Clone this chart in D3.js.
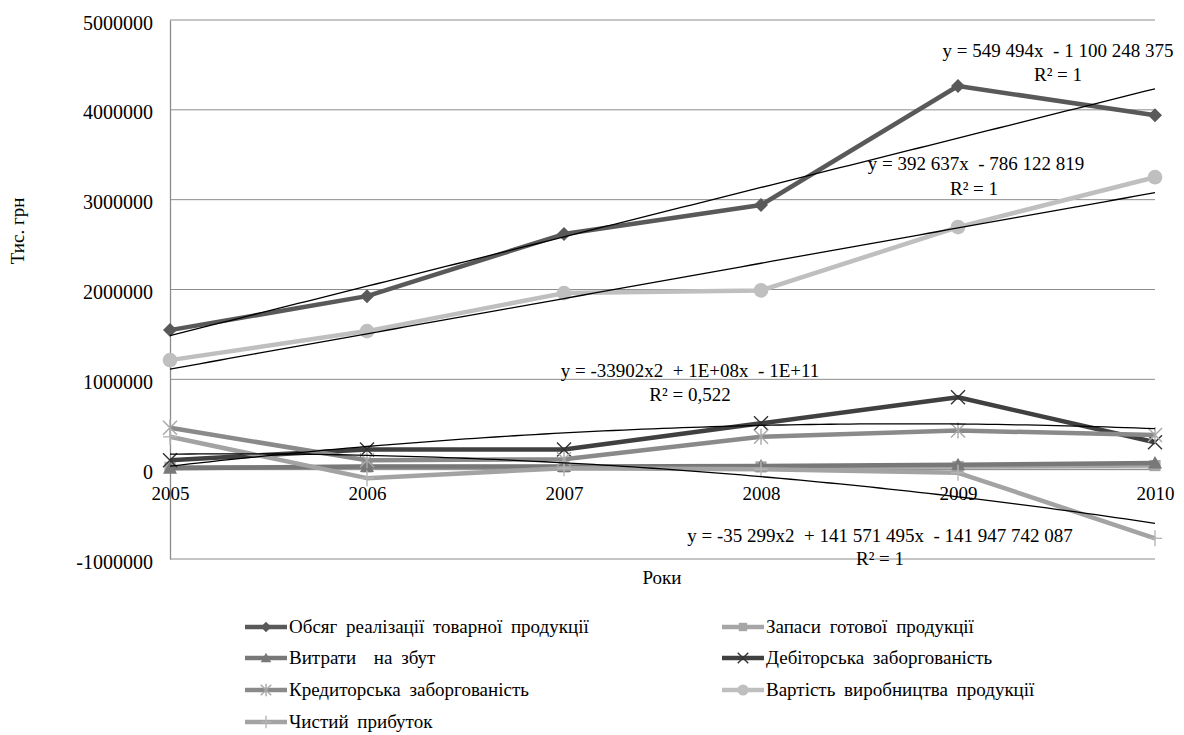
<!DOCTYPE html>
<html>
<head>
<meta charset="utf-8">
<script src="https://cdn.jsdelivr.net/npm/d3@7"></script>
<style>
  body { margin: 0; background: #fff; }
  svg text { font-family: "Liberation Serif", "Times New Roman", serif; fill: #000; }
</style>
</head>
<body>
<svg id="chart" width="1184" height="735" font-family="Liberation Serif"></svg>
<script>
// Years on the category axis
const years = [2005, 2006, 2007, 2008, 2009, 2010];

// Indicators, thousand UAH
const salesVolume      = [1548000, 1926000, 2617000, 2940000, 4265000, 3940000];
const finishedStock    = [20000, 25000, 25000, 25000, 30000, 40000];
const sellingCosts     = [10000, 30000, 30000, 35000, 50000, 70000];
const receivables      = [100000, 220000, 220000, 510000, 800000, 300000];
const payables         = [460000, 100000, 110000, 360000, 430000, 380000];
const productionCost   = [1214000, 1537000, 1960000, 1990000, 2695000, 3250000];
const netProfit        = [360000, -100000, 10000, 0, -40000, -770000];

const seriesNames = [
  "Обсяг реалізації товарної продукції",
  "Запаси готової продукції",
  "Витрати  на збут",
  "Дебіторська заборгованість",
  "Кредиторська заборгованість",
  "Вартість виробництва продукції",
  "Чистий прибуток"
];

// Trend coefficients in powers of (year - 2005): [c0, c1, c2]
const trendSales      = [1487095, 549494, 0];
const trendCost       = [1114366, 392637, 0];
const trendReceivable = [33000, 253000, -33902];
const trendProfit     = [167000, 22505, -35299];

const trendLabels = [
  ["y = 549 494x  - 1 100 248 375", "R² = 1"],
  ["y = 392 637x  - 786 122 819", "R² = 1"],
  ["y = -33902x2  + 1E+08x  - 1E+11", "R² = 0,522"],
  ["y = -35 299x2  + 141 571 495x  - 141 947 742 087", "R² = 1"]
];

const yTicks = [-1000000, 0, 1000000, 2000000, 3000000, 4000000, 5000000];

const FS = 19;
const svg = d3.select("#chart");
const plotLeft = 170, plotRight = 1155, plotTop = 20, plotBottom = 559;

const x = d3.scalePoint().domain(years).range([plotLeft, plotRight]);
const y = d3.scaleLinear().domain([-1000000, 5000000]).range([plotBottom, plotTop]);

// Gridlines
svg.append("g").selectAll("line").data(yTicks).join("line")
  .attr("x1", plotLeft).attr("x2", plotRight)
  .attr("y1", d => y(d)).attr("y2", d => y(d))
  .attr("stroke", "#8c8c8c").attr("stroke-width", 1);

// Value axis
const fmt = d => d3.format("d")(d).replace("\u2212", "-");
const yAxis = d3.axisLeft(y).tickValues(yTicks).tickSize(0).tickPadding(17).tickFormat(fmt);
const gy = svg.append("g").attr("transform", `translate(${plotLeft},0)`).call(yAxis);
gy.attr("font-family", null).attr("font-size", 20);
gy.select(".domain").attr("stroke", "#8c8c8c").attr("stroke-width", 1.3);
gy.selectAll("text").attr("dy", "0.45em");

// Category axis crossing at zero
const xAxis = d3.axisBottom(x).tickSize(0).tickPadding(17);
const gx = svg.append("g").attr("transform", `translate(0,${y(0)})`).call(xAxis);
gx.attr("font-family", null).attr("font-size", FS);
gx.select(".domain").attr("stroke", "#8c8c8c");

// Axis titles
svg.append("text").attr("transform", "translate(24,231) rotate(-90)")
  .attr("text-anchor", "middle").attr("font-size", FS).text("Тис. грн");
svg.append("text").attr("x", 662).attr("y", 584)
  .attr("text-anchor", "middle").attr("font-size", FS).text("Роки");

// Trend lines
const evalTrend = (c, yr) => { const t = yr - 2005; return c[0] + c[1] * t + c[2] * t * t; };
const trendSamples = d3.range(0, 101).map(i => 2005 + i * 0.05);
const xYear = d3.scaleLinear().domain([2005, 2010]).range([plotLeft, plotRight]);
const trendLine = coef => d3.line().x(d => xYear(d)).y(d => y(evalTrend(coef, d)))(trendSamples);

const seriesData = [salesVolume, finishedStock, sellingCosts, receivables, payables, productionCost, netProfit];
const colors = ["#595959", "#a6a6a6", "#787878", "#404040", "#8a8a8a", "#bfbfbf", "#a3a3a3"];
const markerColors = ["#595959", "#a6a6a6", "#787878", "#333333", "#a8a8a8", "#bfbfbf", "#b5b5b5"];
const shapes = ["diamond", "square", "triangle", "x", "star", "circle", "plus"];

const line = d3.line().x((d, i) => x(years[i])).y(d => y(d));

function marker(g, shape, color, cx, cy, s) {
  const r = 7 * s;
  let d = null;
  if (shape === "diamond") d = `M0,${-r}L${r},0L0,${r}L${-r},0Z`;
  if (shape === "square") d = `M${-r * 0.8},${-r * 0.8}h${r * 1.6}v${r * 1.6}h${-r * 1.6}Z`;
  if (shape === "triangle") d = `M0,${-r}L${r},${r * 0.8}L${-r},${r * 0.8}Z`;
  if (d) {
    g.append("path").attr("d", d).attr("transform", `translate(${cx},${cy})`).attr("fill", color);
  } else if (shape === "circle") {
    g.append("circle").attr("cx", cx).attr("cy", cy).attr("r", r * 1.05).attr("fill", color);
  } else {
    const segs = [];
    if (shape === "x" || shape === "star") segs.push([-r, -r, r, r], [-r, r, r, -r]);
    if (shape === "star" || shape === "plus") segs.push([0, -r - 1, 0, r + 1]);
    if (shape === "plus") segs.push([-r, 0, r, 0]);
    segs.forEach(q => g.append("line")
      .attr("x1", cx + q[0]).attr("y1", cy + q[1]).attr("x2", cx + q[2]).attr("y2", cy + q[3])
      .attr("stroke", color).attr("stroke-width", 1.4));
  }
}

const gSeries = svg.append("g");
seriesData.forEach((vals, k) => {
  const g = gSeries.append("g");
  g.append("path").attr("d", line(vals)).attr("fill", "none")
    .attr("stroke", colors[k]).attr("stroke-width", 4.5).attr("stroke-linejoin", "round");
  vals.forEach((v, i) => marker(g, shapes[k], markerColors[k], x(years[i]), y(v), 1));
});

const gTrend = svg.append("g");
[trendSales, trendCost, trendReceivable, trendProfit].forEach(c => {
  gTrend.append("path").attr("d", trendLine(c)).attr("fill", "none")
    .attr("stroke", "#000").attr("stroke-width", 1.3);
});

// Trend equations
const labelPos = [
  { x: 1058, y: 57, rx: 1058, ry: 81 },
  { x: 976, y: 170, rx: 974, ry: 195 },
  { x: 690, y: 377, rx: 690, ry: 401 },
  { x: 880, y: 542, rx: 880, ry: 565 }
];
trendLabels.forEach((lab, i) => {
  const p = labelPos[i];
  svg.append("text").attr("x", p.x).attr("y", p.y).attr("text-anchor", "middle")
    .attr("font-size", FS).style("white-space", "pre").text(lab[0]);
  svg.append("text").attr("x", p.rx).attr("y", p.ry).attr("text-anchor", "middle")
    .attr("font-size", FS).text(lab[1]);
});

// Legend
const legendCols = [245, 722];
const legendRows = [627, 658, 690, 722];
seriesNames.forEach((name, k) => {
  const lx = legendCols[k % 2], ly = legendRows[Math.floor(k / 2)];
  const g = svg.append("g");
  g.append("line").attr("x1", lx).attr("x2", lx + 42).attr("y1", ly).attr("y2", ly)
    .attr("stroke", colors[k]).attr("stroke-width", 4.5);
  marker(g, shapes[k], markerColors[k], lx + 21, ly, 0.75);
  g.append("text").attr("x", lx + 44).attr("y", ly + 6).attr("font-size", FS)
    .attr("word-spacing", 4).style("white-space", "pre").text(name);
});
</script>
</body>
</html>
